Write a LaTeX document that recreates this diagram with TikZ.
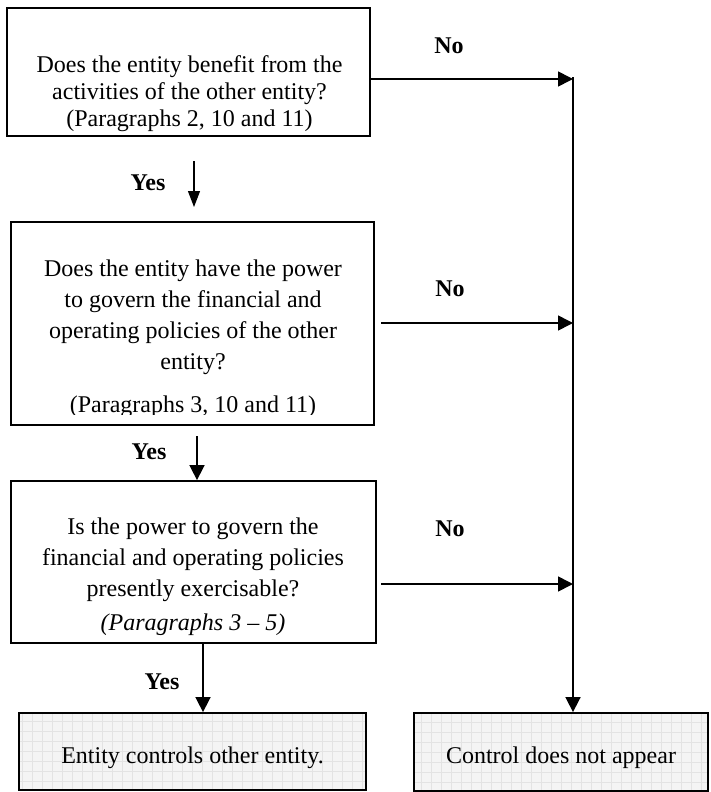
\documentclass[tikz,border=0pt]{standalone}
\usepackage{fontspec}
\setmainfont{Liberation Serif}
\usetikzlibrary{arrows.meta}

\begin{document}
\begin{tikzpicture}[x=1pt,y=-1pt,
  box/.style={draw, line width=1.8pt, inner sep=0pt},
  endbox/.style={box, fill=gray!9,
    path picture={\draw[gray!22, line width=0.4pt, step=10pt]
      (path picture bounding box.south west) grid (path picture bounding box.north east);}},
  % multi-line texts are placed by the baseline of their last line
  txt/.style={font=\fontsize{24}{27}\selectfont, align=center, inner sep=0pt, anchor=base},
  txtwide/.style={txt, font=\fontsize{24}{31}\selectfont},
  lbl/.style={font=\fontsize{24}{28}\selectfont\bfseries, inner sep=0pt},
  flow/.style={line width=1.6pt, -{Triangle[length=15pt,width=15pt]}},
  thinflow/.style={line width=1.2pt, -{Triangle[length=16pt,width=12pt]}},
]
\useasboundingbox (0,0) rectangle (710,792);

% decision boxes
\node[box, minimum width=363pt, minimum height=128pt] (b1) at (188.5,72) {};
\node[box, minimum width=363pt, minimum height=203pt] (b2) at (192.5,323.5) {};
\node[box, minimum width=365pt, minimum height=162pt] (b3) at (193.5,562) {};
% outcome boxes
\node[endbox, minimum width=347pt, minimum height=77pt] (b4) at (192.5,751.5) {};
\node[endbox, minimum width=294pt, minimum height=78pt] (b5) at (561,752) {};

% box texts
\node[txt] (t1) at (189.5,126) {Does the entity benefit from the\\activities of the other entity?\\(Paragraphs 2, 10 and 11)};
\begin{scope}
  \clip (b2.north west) rectangle (374,414);
  \node[txtwide] (t2) at (193,412) {Does the entity have the power\\to govern the financial and\\operating policies of the other\\entity?\\[12pt](Paragraphs 3, 10 and 11)};
\end{scope}
\node[txtwide] (t3) at (193,630) {Is the power to govern the\\financial and operating policies\\presently exercisable?\\[3pt]\textit{(Paragraphs 3 -- 5)}};
\node[txt] (t4) at (192.5,763) {Entity controls other entity.};
\node[txt] (t5) at (561,763) {Control does not appear};

% branch labels
\node[lbl] (y1) at (148,183) {Yes};
\node[lbl] (y2) at (149,452) {Yes};
\node[lbl] (y3) at (162,682) {Yes};
\node[lbl] (n1l) at (449,46) {No};
\node[lbl] (n2l) at (450,289) {No};
\node[lbl] (n3l) at (450,529) {No};

% connector end points
\coordinate (y1s) at (194,161);
\coordinate (y1e) at (194,207);
\coordinate (y2s) at (197,436);
\coordinate (y3s) at (203,643);
\coordinate (trunk) at (573,77);
\coordinate (n1s) at (370,79);
\coordinate (n2s) at (381,323);
\coordinate (n3s) at (381,584);

% "Yes" connectors
\draw[thinflow] (y1s) -- (y1e);
\draw[flow] (y2s) -- (y2s |- b3.north);
\draw[flow] (y3s) -- (y3s |- b4.north);

% "No" connectors and collecting line
\draw[flow] (trunk) -- (trunk |- b5.north);
\draw[flow] (n1s) -- (n1s -| trunk);
\draw[flow] (n2s) -- (n2s -| trunk);
\draw[flow] (n3s) -- (n3s -| trunk);
\end{tikzpicture}
\end{document}
